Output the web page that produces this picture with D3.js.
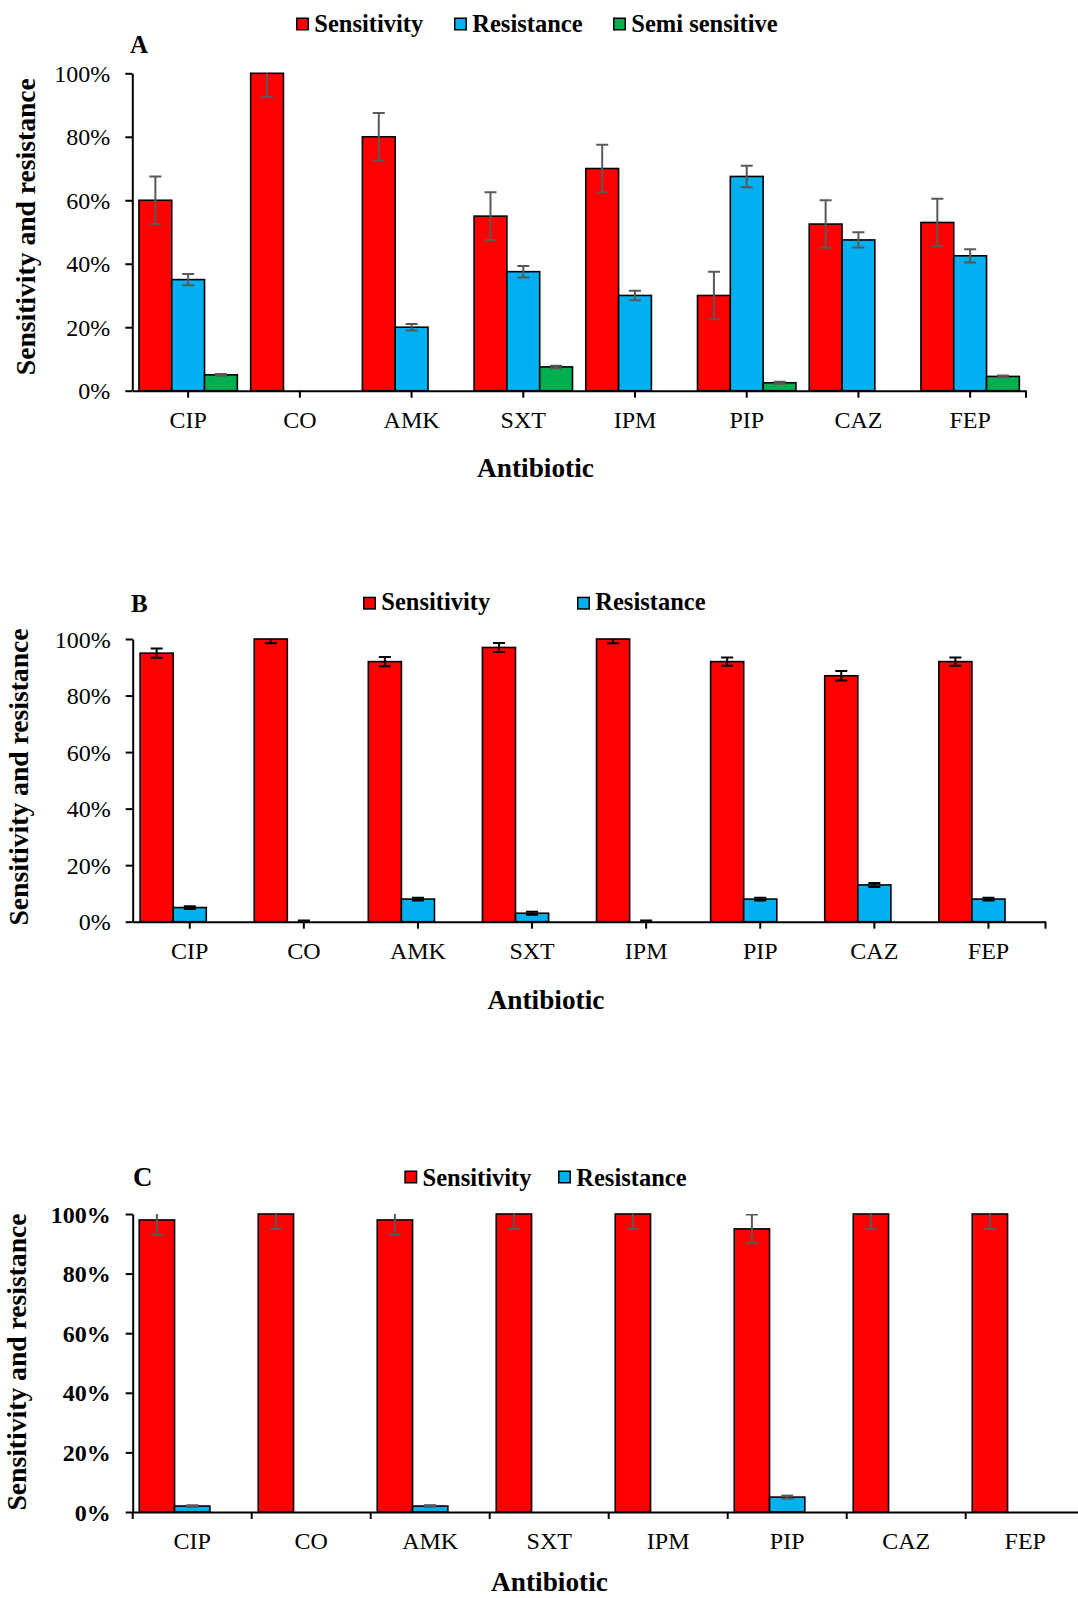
<!DOCTYPE html>
<html><head><meta charset="utf-8">
<script src="https://cdn.jsdelivr.net/npm/d3@7"></script>
<style>
body{margin:0;background:#fff}
svg{display:block}
text{font-family:"Liberation Serif","Times New Roman",serif !important;fill:#000}
</style>
</head><body>
<svg id="chart" width="1078" height="1598"></svg>
<script>
// ---------- DATA ----------
const categories = ["CIP","CO","AMK","SXT","IPM","PIP","CAZ","FEP"];
const seriesNames = ["Sensitivity","Resistance","Semi sensitive"];
const yTickValues = [0,20,40,60,80,100];
const xTitle = "Antibiotic";
const yTitle = "Sensitivity and resistance";

// Panel A
const aSensitivity = [60,100,80,55,70,30,52.5,53];
const aResistance  = [35,0,20,37.5,30,67.5,47.5,42.5];
const aSemi        = [5,0,0,7.5,0,2.5,0,4.5];
const aSensErr     = [7.5,7.5,7.5,7.5,7.5,7.5,7.5,7.5];
const aResErr      = [1.8,0,1,1.8,1.5,3.4,2.4,2.1];
const aSemiErr     = [0.3,0,0,0.4,0,0.3,0,0.3];

// Panel B
const bSensitivity = [95,100,92,97,100,92,87,92];
const bResistance  = [5,0,8,3,0,8,13,8];
const bSensErr     = [1.6,1.5,1.6,1.6,1.5,1.5,1.7,1.5];
const bResErr      = [0.5,0.4,0.5,0.5,0.4,0.5,0.7,0.5];

// Panel C
const cSensitivity = [98,100,98,100,100,95,100,100];
const cResistance  = [2,0,2,0,0,5,0,0];
const cSensErr     = [5,5,5,5,5,4.8,5,5];
const cResErr      = [0.3,0,0.3,0,0,0.5,0,0];

const colors = ["#FF0000","#00B0F0","#00B050"];
const FONT = '"Liberation Serif","Times New Roman",serif';

// ---------- LAYOUT ----------
const panels = [
  {title:"A", values:[aSensitivity,aResistance,aSemi], errs:[aSensErr,aResErr,aSemiErr], slots:3,
   left:132.3, right:1026, top:73.3, bottom:390.7, pad:0.119, tickMode:"center", endTick:true,
   errColor:"#595959", tickBold:false, titleX:130, titleY:53.3, titleSize:25,
   legend:[{s:0,x:296},{s:1,x:454},{s:2,x:613}], legTop:17.5, legBase:32,
   yTitleX:35, yTitleY:226.7, xTitleX:535.5, xTitleY:477},
  {title:"B", values:[bSensitivity,bResistance], errs:[bSensErr,bResErr], slots:3,
   left:132.7, right:1045.5, top:639, bottom:921.7, pad:0.13, tickMode:"center", endTick:true,
   errColor:"#000000", tickBold:false, titleX:131, titleY:611.7, titleSize:25,
   legend:[{s:0,x:363},{s:1,x:577}], legTop:596.7, legBase:609.5,
   yTitleX:28, yTitleY:777, xTitleX:546, xTitleY:1009},
  {title:"C", values:[cSensitivity,cResistance], errs:[cSensErr,cResErr], slots:3,
   left:132.7, right:1084.7, top:1214, bottom:1512, pad:0.11, tickMode:"boundary", endTick:false,
   errColor:"#595959", tickBold:true, titleX:133, titleY:1186, titleSize:27,
   legend:[{s:0,x:404.3},{s:1,x:558}], legTop:1170.5, legBase:1185.5,
   yTitleX:25.5, yTitleY:1362, xTitleX:549.5, xTitleY:1591}
];

const svg = d3.select("#chart");
svg.append("rect").attr("width",1078).attr("height",1598).attr("fill","#fff");

panels.forEach((p, pi) => {
  const g = svg.append("g");
  const x0 = d3.scaleBand().domain(categories).range([p.left, p.right])
    .paddingInner(p.pad).paddingOuter(p.pad/2);
  const x1 = d3.scaleBand().domain(d3.range(p.slots)).range([0, x0.bandwidth()]).padding(0);
  const y = d3.scaleLinear().domain([0,100]).range([p.bottom, p.top]);

  const cid = "clip"+pi;
  svg.append("defs").append("clipPath").attr("id",cid).append("rect")
    .attr("x",p.left).attr("y",p.top).attr("width",p.right-p.left).attr("height",p.bottom-p.top);

  // bars
  p.values.forEach((vals, s) => {
    g.append("g").selectAll("rect").data(categories.map((c,i)=>({c, v:vals[i]})).filter(d=>d.v>0))
      .join("rect")
      .attr("x", d => x0(d.c) + x1(s))
      .attr("y", d => y(d.v))
      .attr("width", x1.bandwidth())
      .attr("height", d => y(0) - y(d.v))
      .attr("fill", colors[s])
      .attr("stroke", "#000").attr("stroke-width", 1.6);
  });

  // error bars
  const eg = g.append("g").attr("clip-path", `url(#${cid})`);
  p.values.forEach((vals, s) => {
    const data = categories.map((c,i)=>({c, v:vals[i], e:p.errs[s][i]})).filter(d=>d.e>0);
    const cx = d => x0(d.c) + x1(s) + x1.bandwidth()/2;
    const sel = eg.append("g").attr("stroke", p.errColor).attr("stroke-width", 2).attr("fill","none");
    sel.selectAll("line.v").data(data).join("line").attr("class","v")
      .attr("x1",cx).attr("x2",cx).attr("y1",d=>y(d.v+d.e)).attr("y2",d=>y(Math.max(0,d.v-d.e)));
    sel.selectAll("line.t").data(data).join("line").attr("class","t")
      .attr("x1",d=>cx(d)-6).attr("x2",d=>cx(d)+6).attr("y1",d=>y(d.v+d.e)).attr("y2",d=>y(d.v+d.e));
    sel.selectAll("line.b").data(data).join("line").attr("class","b")
      .attr("x1",d=>cx(d)-6).attr("x2",d=>cx(d)+6).attr("y1",d=>y(Math.max(0,d.v-d.e))).attr("y2",d=>y(Math.max(0,d.v-d.e)));
  });

  // y axis
  const ya = g.append("g").attr("transform",`translate(${p.left},0)`)
    .call(d3.axisLeft(y).tickValues(yTickValues).tickSize(7).tickSizeOuter(0).tickPadding(15).tickFormat(d=>d+"%"));
  ya.attr("font-family", FONT).attr("font-size", 24);
  ya.select(".domain").attr("stroke","#000").attr("stroke-width",2);
  ya.selectAll(".tick line").attr("stroke","#000").attr("stroke-width",2);
  ya.selectAll("text").style("font-family", FONT).style("font-size","24px")
    .style("font-weight", p.tickBold ? "bold" : "normal").attr("dy","0.34em");

  // x axis
  const xa = g.append("g").attr("transform",`translate(0,${p.bottom})`)
    .call(d3.axisBottom(x0).tickSize(p.tickMode==="center"?7:0).tickSizeOuter(0));
  xa.attr("font-family", FONT).attr("font-size", 24);
  xa.select(".domain").attr("stroke","#000").attr("stroke-width",2);
  xa.selectAll(".tick line").attr("stroke","#000").attr("stroke-width",2);
  xa.selectAll("text").style("font-family", FONT).style("font-size","24px").attr("y",37).attr("dy",0);
  if (p.tickMode === "boundary") {
    const bounds = categories.map(c => x0(c) - x0.step()*p.pad/2).concat([p.right]);
    xa.append("g").selectAll("line").data(bounds).join("line")
      .attr("x1",d=>d).attr("x2",d=>d).attr("y1",0).attr("y2",7)
      .attr("stroke","#000").attr("stroke-width",2);
  }
  if (p.endTick) {
    xa.append("line").attr("x1",p.right).attr("x2",p.right).attr("y1",0).attr("y2",7)
      .attr("stroke","#000").attr("stroke-width",2);
  }

  // titles
  g.append("text").attr("x",p.titleX).attr("y",p.titleY).style("font-weight","bold")
    .style("font-size",p.titleSize+"px").text(p.title);
  g.append("text").attr("transform",`translate(${p.yTitleX},${p.yTitleY}) rotate(-90)`)
    .attr("text-anchor","middle").style("font-weight","bold").style("font-size","27px")
    .attr("textLength",297).attr("lengthAdjust","spacingAndGlyphs").text(yTitle);
  g.append("text").attr("x",p.xTitleX).attr("y",p.xTitleY).attr("text-anchor","middle")
    .style("font-weight","bold").style("font-size","27.3px").text(xTitle);

  // legend
  const lg = g.append("g");
  p.legend.forEach(it => {
    lg.append("rect").attr("x",it.x+0.75).attr("y",p.legTop+0.75).attr("width",11.5).attr("height",11.5)
      .attr("fill",colors[it.s]).attr("stroke","#000").attr("stroke-width",1.5);
    lg.append("text").attr("x",it.x+18.3).attr("y",p.legBase).style("font-weight","bold")
      .style("font-size","24.5px").text(seriesNames[it.s]);
  });
});
</script>
</body></html>
